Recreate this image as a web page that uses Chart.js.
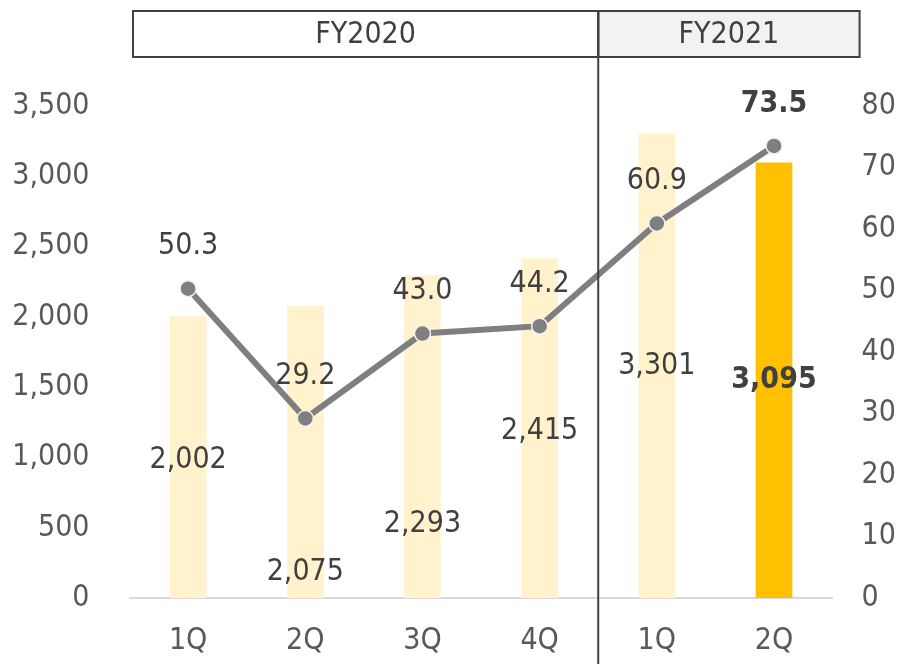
<!DOCTYPE html>
<html>
<head>
<meta charset="utf-8">
<script src="https://cdn.jsdelivr.net/npm/chart.js@4.4.1/dist/chart.umd.min.js"></script>
<style>
html,body{margin:0;padding:0;background:#fff;}
#wrap{width:916px;height:664px;position:relative;}
</style>
</head>
<body>
<div id="wrap"><canvas id="c" width="916" height="664"></canvas></div>
<script>
const categories = ['1Q','2Q','3Q','4Q','1Q','2Q'];
const fiscalYears = ['FY2020','FY2021'];
const fyCounts = [4, 2];
const barValues = [2002, 2075, 2293, 2415, 3301, 3095];
const lineValues = [50.3, 29.2, 43.0, 44.2, 60.9, 73.5];
const barLabelAnchor = [0.49, 0.09, 0.23, 0.49, 0.50, 0.50];
const leftTicks = [0, 500, 1000, 1500, 2000, 2500, 3000, 3500];
const rightTicks = [0, 10, 20, 30, 40, 50, 60, 70, 80];
const highlightIndex = 5;

const FONT = "'DejaVu Sans Condensed', 'DejaVu Sans', Verdana, sans-serif";
const FS = 30;
const barColors = barValues.map((v,i)=> i===highlightIndex ? '#FFC000' : '#FFF2CC');

const overlay = {
  id: 'overlay',
  afterDatasetsDraw(chart) {
    const ctx = chart.ctx;
    ctx.save();
    ctx.textAlign = 'center';
    ctx.textBaseline = 'middle';
    const yL = chart.scales.yL;
    const barMeta = chart.getDatasetMeta(1);
    barMeta.data.forEach((el, i) => {
      const v = barValues[i];
      const py = yL.getPixelForValue(v * barLabelAnchor[i]);
      ctx.font = (i===highlightIndex ? 'bold ' : '') + FS + 'px ' + FONT;
      ctx.fillStyle = '#404040';
      ctx.fillText(v.toLocaleString('en-US'), el.x, py);
    });
    const lineMeta = chart.getDatasetMeta(0);
    lineMeta.data.forEach((el, i) => {
      ctx.font = (i===highlightIndex ? 'bold ' : '') + FS + 'px ' + FONT;
      ctx.fillStyle = '#404040';
      ctx.fillText(lineValues[i].toFixed(1), el.x, el.y - 42);
    });
    ctx.restore();
  },
  afterDraw(chart) {
    const ctx = chart.ctx;
    const x = chart.scales.x;
    const ca = chart.chartArea;
    const boxTop = 11, boxBottom = 57;
    const boxLeft = ca.left + 3.5;
    const boxRight = ca.right + 27;
    const divX = (x.getPixelForValue(fyCounts[0]-1) + x.getPixelForValue(fyCounts[0])) / 2;
    ctx.save();
    ctx.fillStyle = '#F2F2F2';
    ctx.fillRect(divX, boxTop, boxRight - divX, boxBottom - boxTop);
    ctx.strokeStyle = '#404040';
    ctx.lineWidth = 2;
    ctx.strokeRect(boxLeft, boxTop, divX - boxLeft, boxBottom - boxTop);
    ctx.strokeRect(divX, boxTop, boxRight - divX, boxBottom - boxTop);
    ctx.beginPath();
    ctx.moveTo(divX, boxTop);
    ctx.lineTo(divX, chart.height);
    ctx.stroke();
    ctx.fillStyle = '#404040';
    ctx.font = FS + 'px ' + FONT;
    ctx.textAlign = 'center';
    ctx.textBaseline = 'middle';
    ctx.fillText(fiscalYears[0], (boxLeft + divX)/2, (boxTop+boxBottom)/2 + 1);
    ctx.fillText(fiscalYears[1], (divX + boxRight)/2, (boxTop+boxBottom)/2 + 1);
    ctx.restore();
  }
};

new Chart(document.getElementById('c'), {
  data: {
    labels: categories,
    datasets: [
      {
        type: 'line',
        data: lineValues,
        yAxisID: 'yR',
        borderColor: '#7F7F7F',
        borderWidth: 6,
        pointRadius: 8,
        pointBackgroundColor: '#7F7F7F',
        pointBorderColor: '#F2F2F2',
        pointBorderWidth: 1.5,
        tension: 0,
        order: 0
      },
      {
        type: 'bar',
        data: barValues,
        yAxisID: 'yL',
        backgroundColor: barColors,
        barThickness: 36,
        order: 1
      }
    ]
  },
  options: {
    responsive: false,
    animation: false,
    events: [],
    layout: { padding: { top: 106, bottom: 0, left: 0, right: 0 } },
    plugins: { legend: { display: false }, tooltip: { enabled: false } },
    scales: {
      x: {
        grid: { display: false, drawTicks: false },
        border: { display: true, color: '#D9D9D9', width: 2 },
        ticks: { color: '#595959', font: { family: FONT, size: FS }, padding: 25 },
        afterFit(s) { s.height = 66; }
      },
      yL: {
        position: 'left',
        min: 0, max: 3500,
        afterBuildTicks(s) { s.ticks = leftTicks.map(v => ({ value: v })); },
        grid: { display: false, drawTicks: false },
        border: { display: false },
        ticks: {
          color: '#595959', font: { family: FONT, size: FS }, padding: 40,
          callback: v => v.toLocaleString('en-US')
        },
        afterFit(s) { s.width = 129.5; }
      },
      yR: {
        position: 'right',
        min: 0, max: 80,
        afterBuildTicks(s) { s.ticks = rightTicks.map(v => ({ value: v })); },
        grid: { display: false, drawTicks: false },
        border: { display: false },
        ticks: { color: '#595959', font: { family: FONT, size: FS }, padding: 29 },
        afterFit(s) { s.width = 83.4; }
      }
    }
  },
  plugins: [overlay]
});
</script>
</body>
</html>
